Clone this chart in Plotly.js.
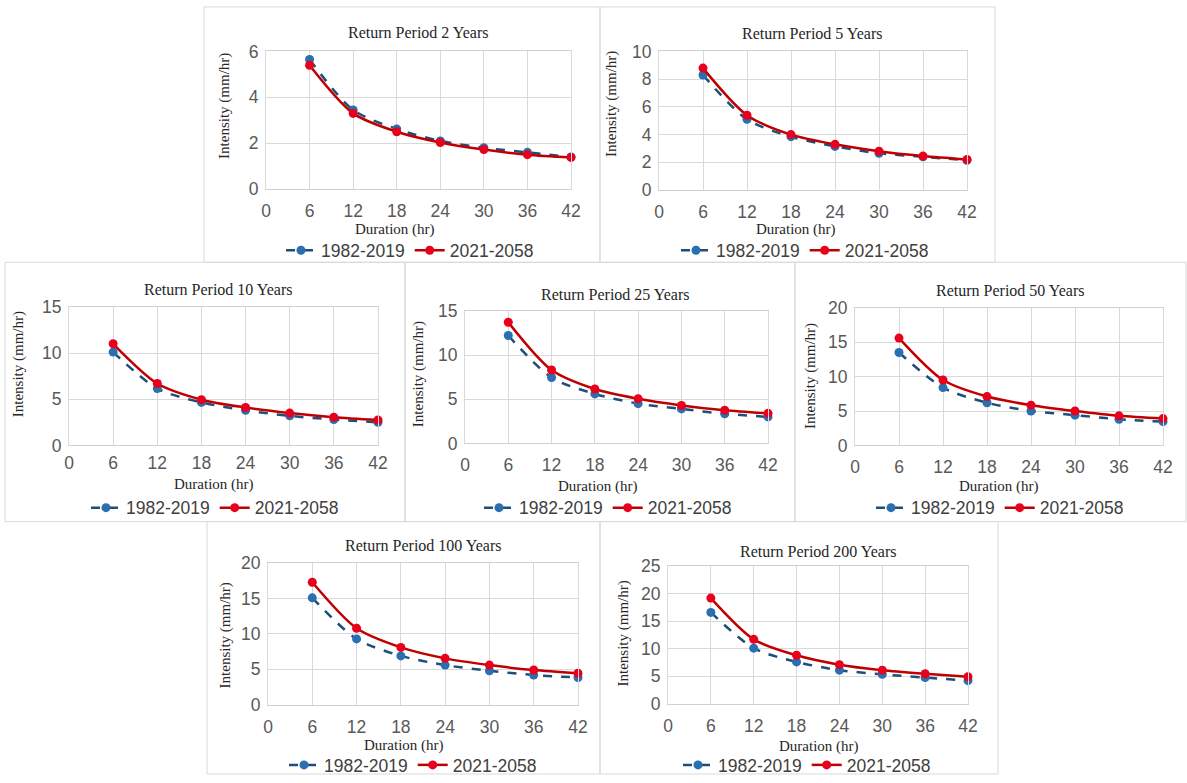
<!DOCTYPE html>
<html>
<head>
<meta charset="utf-8">
<script src="https://cdn.plot.ly/plotly-3.0.1.min.js"></script>
<style>html,body{margin:0;padding:0;background:#fff;}#chart{width:1187px;height:783px;}</style>
</head>
<body>
<div id="chart"></div>
<script>
// ---- data ----
const durations = [6, 12, 18, 24, 30, 36, 42];
const seriesNames = ["1982-2019", "2021-2058"];
const panelTitles = ["Return Period 2 Years", "Return Period 5 Years", "Return Period 10 Years",
  "Return Period 25 Years", "Return Period 50 Years", "Return Period 100 Years", "Return Period 200 Years"];
const xTickVals = [0, 6, 12, 18, 24, 30, 36, 42];
const yMax = [6, 10, 15, 15, 20, 20, 25];
const yStep = [2, 2, 5, 5, 5, 5, 5];

const rp2_hist = [5.65, 3.45, 2.62, 2.10, 1.80, 1.60, 1.40];
const rp2_fut  = [5.40, 3.30, 2.50, 2.03, 1.72, 1.50, 1.38];
const rp5_hist = [8.30, 5.10, 3.85, 3.15, 2.65, 2.40, 2.15];
const rp5_fut  = [8.80, 5.40, 4.00, 3.30, 2.80, 2.45, 2.20];
const rp10_hist = [10.1, 6.15, 4.65, 3.80, 3.20, 2.80, 2.50];
const rp10_fut  = [11.0, 6.70, 4.95, 4.10, 3.50, 3.05, 2.75];
const rp25_hist = [12.2, 7.45, 5.60, 4.50, 3.90, 3.35, 3.00];
const rp25_fut  = [13.7, 8.30, 6.15, 5.05, 4.30, 3.75, 3.40];
const rp50_hist = [13.5, 8.40, 6.20, 5.00, 4.40, 3.80, 3.45];
const rp50_fut  = [15.6, 9.50, 7.10, 5.85, 5.00, 4.30, 3.90];
const rp100_hist = [15.1, 9.30, 6.90, 5.60, 4.80, 4.20, 3.85];
const rp100_fut  = [17.3, 10.8, 8.10, 6.55, 5.60, 4.90, 4.45];
const rp200_hist = [16.6, 10.1, 7.60, 6.10, 5.35, 4.75, 4.20];
const rp200_fut  = [19.2, 11.7, 8.80, 7.10, 6.10, 5.45, 4.90];

const histSeries = [rp2_hist, rp5_hist, rp10_hist, rp25_hist, rp50_hist, rp100_hist, rp200_hist];
const futSeries  = [rp2_fut, rp5_fut, rp10_fut, rp25_fut, rp50_fut, rp100_fut, rp200_fut];

// ---- layout geometry (pixels) ----
const W = 1187, H = 783;
const plots = [ // [x0, x1, y0(top), y1(bottom)]
  [266, 571, 52, 191], [659, 967, 52, 192],
  [69, 378, 310, 450], [465, 768, 314, 448], [855, 1163, 311, 450],
  [268, 578, 569, 712], [668, 968, 572, 711]
];
const xStandoff = [6, 6, 2, 6, 6, 6, 6];
const boxes = [
  [204, 600, 7, 265], [600, 995, 7, 265],
  [5, 405, 265, 527], [405, 795, 265, 527], [795, 1186, 265, 527],
  [207, 600, 527, 782], [600, 998, 527, 782]
];
const titlePos = [[418, 33], [812, 34], [218, 292], [615, 298], [1010, 294], [423, 551], [818, 557]];
const xTitlePos = [[395, 232], [796, 232], [214, 489], [598, 492], [999, 492], [404, 753], [819, 754]];
const yTitlePos = [[225, 107], [612, 105], [18, 368], [418, 378], [810, 380], [225, 642], [623, 640]];
const legendPos = [[410, 253], [805, 253], [215, 513], [608, 513], [1000, 513], [413, 773], [807, 773]];

const px = x => x / W;
const py = y => 1 - y / H;

const traces = [];
const layout = {
  width: W, height: H,
  margin: {l: 0, r: 0, t: 0, b: 0},
  paper_bgcolor: '#ffffff', plot_bgcolor: '#ffffff',
  showlegend: true,
  annotations: [], shapes: []
};

const serifFont = 'Liberation Serif, Times New Roman, serif';
const sansFont = 'Liberation Sans, Arial, sans-serif';

for (let i = 0; i < 7; i++) {
  const sfx = i === 0 ? '' : String(i + 1);
  const legName = 'legend' + sfx;
  traces.push({
    x: durations, y: histSeries[i], type: 'scatter', mode: 'lines+markers',
    name: seriesNames[0], xaxis: 'x' + sfx, yaxis: 'y' + sfx, legend: legName,
    line: {color: '#1f4e79', width: 2.5, dash: 'dash', shape: 'spline', smoothing: 0.8},
    marker: {color: '#2a6fb0', size: 9}, cliponaxis: false
  });
  traces.push({
    x: durations, y: futSeries[i], type: 'scatter', mode: 'lines+markers',
    name: seriesNames[1], xaxis: 'x' + sfx, yaxis: 'y' + sfx, legend: legName,
    line: {color: '#c00000', width: 2.5, shape: 'spline', smoothing: 0.8},
    marker: {color: '#e8001c', size: 9}, cliponaxis: false
  });
  const p = plots[i];
  layout['xaxis' + sfx] = {
    domain: [px(p[0]), px(p[1])], anchor: 'y' + sfx,
    range: [0, 42], tickvals: xTickVals, ticktext: xTickVals.map(String),
    showgrid: true, gridcolor: '#d9d9d9', gridwidth: 1, zeroline: false,
    showline: true, mirror: true, linecolor: '#d0d0d0', linewidth: 1,
    ticks: '', ticklabelstandoff: xStandoff[i], tickfont: {family: sansFont, size: 17.5, color: '#595959'},
    fixedrange: true
  };
  layout['yaxis' + sfx] = {
    domain: [py(p[3]), py(p[2])], anchor: 'x' + sfx,
    range: [0, yMax[i]], dtick: yStep[i], tick0: 0,
    showgrid: true, gridcolor: '#d9d9d9', gridwidth: 1, zeroline: false,
    showline: true, mirror: true, linecolor: '#d9d9d9', linewidth: 1,
    ticks: '', ticklabelstandoff: 3, tickfont: {family: sansFont, size: 17.5, color: '#595959'},
    fixedrange: true
  };
  layout[legName] = {
    x: px(legendPos[i][0]), y: py(legendPos[i][1]), xanchor: 'center', yanchor: 'middle',
    orientation: 'h', bgcolor: 'rgba(0,0,0,0)', borderwidth: 0,
    font: {family: sansFont, size: 17.5, color: '#404040'},
    itemwidth: 30, tracegroupgap: 0
  };
  const b = boxes[i];
  layout.shapes.push({
    type: 'rect', xref: 'paper', yref: 'paper',
    x0: px(b[0]), x1: px(b[1]), y0: py(b[3]), y1: py(b[2]),
    line: {color: '#d9d9d9', width: 1}, fillcolor: 'rgba(0,0,0,0)', layer: 'below'
  });
  layout.annotations.push({
    text: panelTitles[i], xref: 'paper', yref: 'paper',
    x: px(titlePos[i][0]), y: py(titlePos[i][1]), xanchor: 'center', yanchor: 'middle',
    showarrow: false, font: {family: serifFont, size: 16, color: '#262626'}
  });
  layout.annotations.push({
    text: 'Duration (hr)', xref: 'paper', yref: 'paper',
    x: px(xTitlePos[i][0]), y: py(xTitlePos[i][1]), xanchor: 'center', yanchor: 'middle',
    showarrow: false, font: {family: serifFont, size: 15, color: '#262626'}
  });
  layout.annotations.push({
    text: 'Intensity (mm/hr)', xref: 'paper', yref: 'paper', textangle: -90,
    x: px(yTitlePos[i][0]), y: py(yTitlePos[i][1]), xanchor: 'center', yanchor: 'middle',
    showarrow: false, font: {family: serifFont, size: 15, color: '#262626'}
  });
}

Plotly.newPlot('chart', traces, layout, {displayModeBar: false, staticPlot: true});
</script>
</body>
</html>
